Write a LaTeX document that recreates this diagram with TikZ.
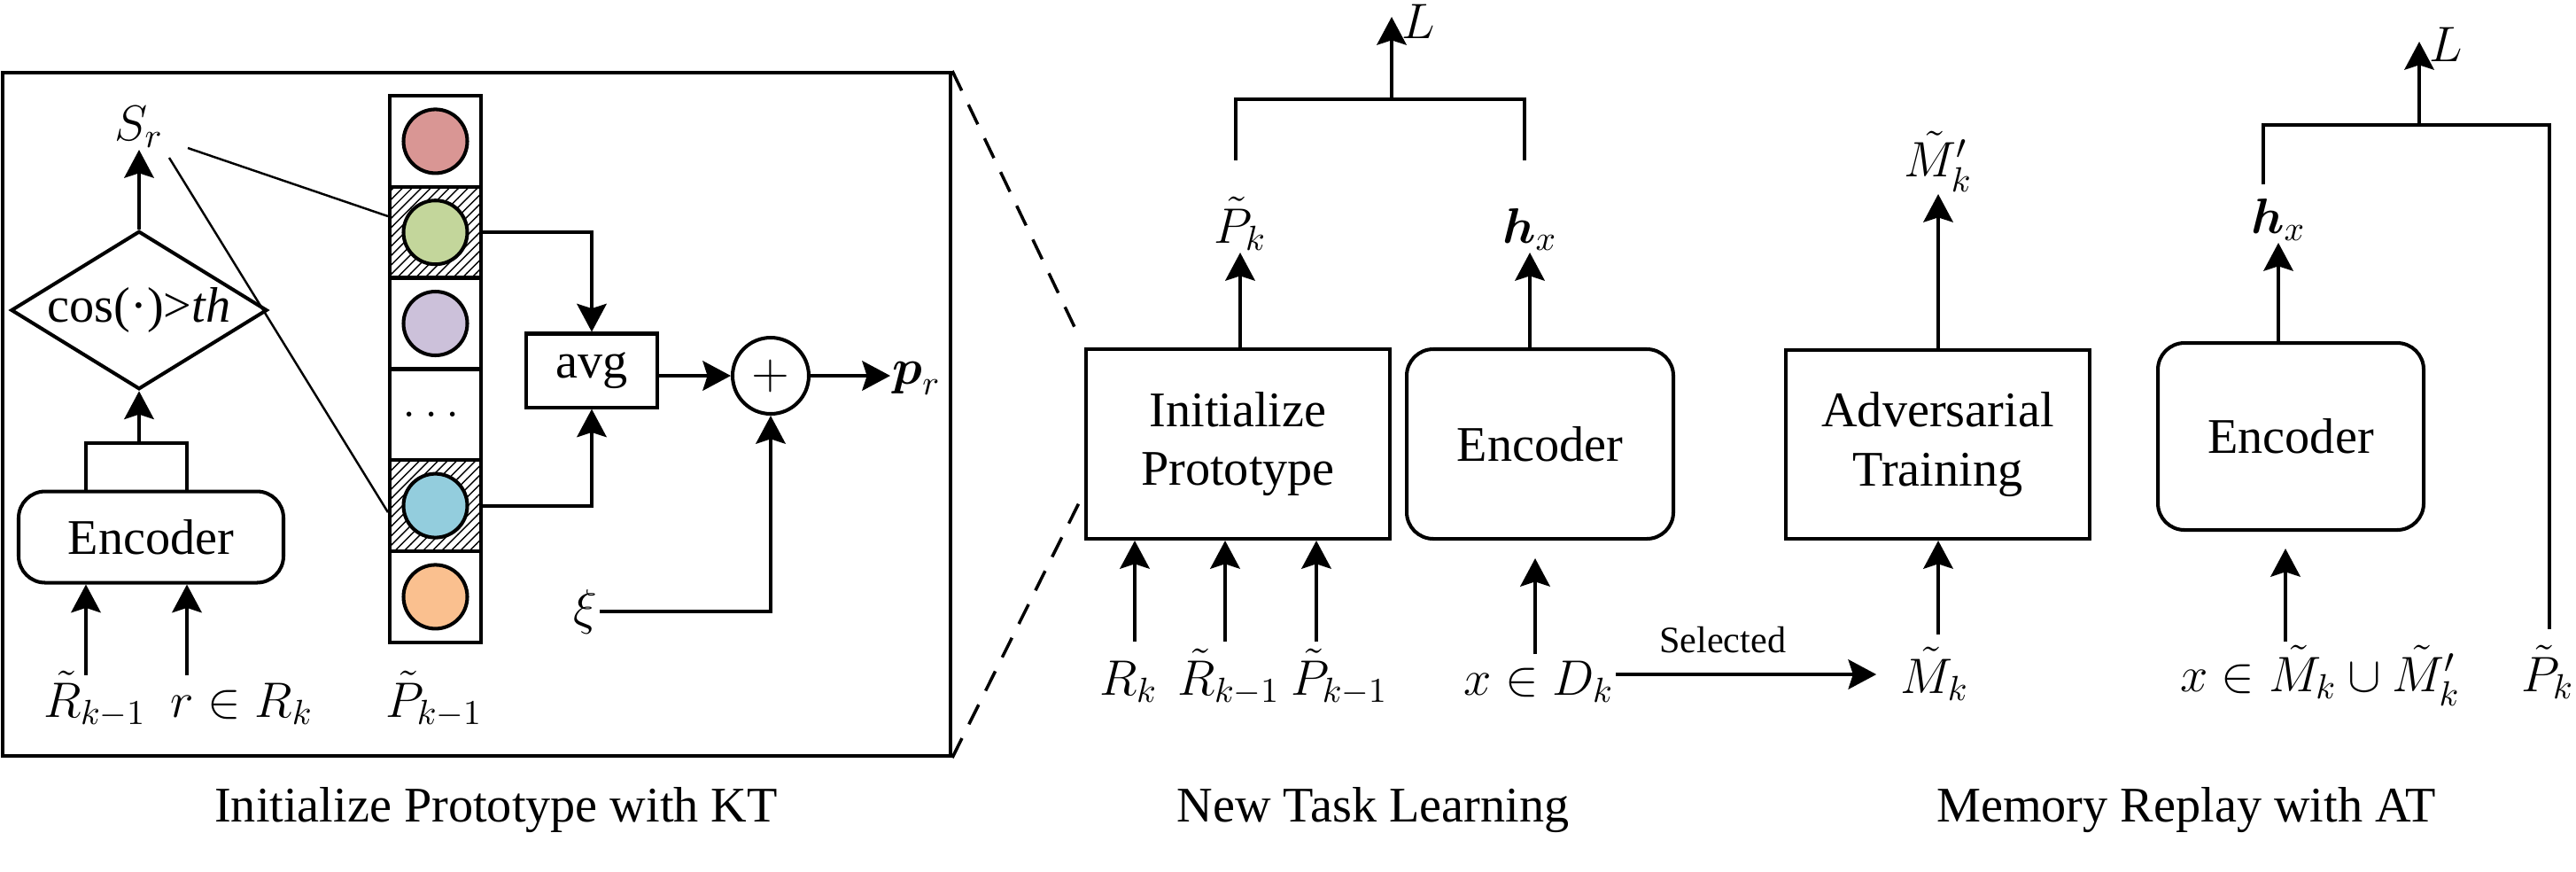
\documentclass[tikz,border=0pt]{standalone}
\usepackage{fix-cm}
\usepackage{amsmath}
\usepackage[no-math]{fontspec}
\setmainfont{Liberation Serif}
\usepackage{tikz}
\usetikzlibrary{arrows.meta,shapes.geometric,patterns,calc,positioning}
\definecolor{cred}{HTML}{D99694}
\definecolor{cgreen}{HTML}{C3D69B}
\definecolor{cpurple}{HTML}{CCC1DA}
\definecolor{cblue}{HTML}{93CDDD}
\definecolor{corange}{HTML}{FAC08F}
\tikzset{
  wire/.style={line width=1.15pt},
  thinwire/.style={line width=0.7pt},
  dashwire/.style={line width=1pt, dash pattern=on 7pt off 5pt},
  arr/.style={line width=1.15pt, -{Stealth[length=9pt,width=9.5pt,inset=1.5pt]}},
  box/.style={draw, line width=1.15pt, inner sep=0pt},
  rbox/.style={box, rounded corners=0.3cm},
  lab/.style={inner sep=0.5pt},
  cell/.style={draw, line width=1.15pt, minimum size=1.03cm, inner sep=0pt},
  dot/.style={circle, draw, line width=1.15pt, minimum size=0.72cm, inner sep=0pt},
}

\begin{document}
\begin{tikzpicture}[font=\fontsize{16}{19}\selectfont]
    \useasboundingbox (0,0) rectangle (29.08,-9.83);

    % initialize prototype with KT
    \node[box, minimum width=10.70cm, minimum height=7.71cm] (kt) at (5.38,-4.675) {};
    \node[lab, anchor=south] (sr) at (1.57,-1.69) {$S_r$};
    \node[box, diamond, aspect=1.62, minimum width=2.66cm, minimum height=1.64cm] (cosd) at (1.57,-3.50) {cos(·)>\textit{th}};
    \node[rbox, minimum width=2.99cm, minimum height=1.03cm] (enc0) at (1.705,-6.06) {Encoder};
    \coordinate (bk0) at (1.57,-5.00);
    \draw[wire] ($(enc0.north)+(-0.735,0)$) |- (bk0) -| ($(enc0.north)+(0.405,0)$);
    \draw[arr] (bk0) -- (cosd.south);
    \draw[arr] (cosd.north) -- (sr.south);
    \coordinate (i01) at (0.97,-7.62);
    \coordinate (i02) at (2.11,-7.62);
    \draw[arr] (i01) -- (i01 |- enc0.south);
    \draw[arr] (i02) -- (i02 |- enc0.south);
    \node[lab, anchor=base] (rt0) at (1.07,-8.09) {$\tilde{R}_{k-1}$};
    \node[lab, anchor=base] (rin) at (2.73,-8.09) {$r\in R_k$};

    \node[cell] (c1) at (4.915,-1.594) {};
    \node[cell, pattern=north east lines] (c2) at (4.915,-2.622) {};
    \node[cell] (c3) at (4.915,-3.650) {};
    \node[cell] (c4) at (4.915,-4.678) {$\dots$};
    \node[cell, pattern=north east lines] (c5) at (4.915,-5.706) {};
    \node[cell] (c6) at (4.915,-6.734) {};
    \node[dot, fill=cred] (d1) at (c1) {};
    \node[dot, fill=cgreen] (d2) at (c2) {};
    \node[dot, fill=cpurple] (d3) at (c3) {};
    \node[dot, fill=cblue] (d5) at (c5) {};
    \node[dot, fill=corange] (d6) at (c6) {};
    \node[lab, anchor=base] (pkm0) at (4.90,-8.09) {$\tilde{P}_{k-1}$};
    \coordinate (s1) at (2.12,-1.67);
    \coordinate (s2) at (1.91,-1.78);
    \draw[thinwire] (s1) -- ($(c2.north west)!0.33!(c2.south west)$);
    \draw[thinwire] (s2) -- ($(c5.north west)!0.57!(c5.south west)$);

    \node[box, minimum width=1.48cm, minimum height=0.83cm] (avg) at (6.68,-4.18) {avg};
    \node[box, circle, minimum size=0.86cm] (plus) at (8.70,-4.24) {$+$};
    \draw[arr] (c2.east) -| (avg.north);
    \draw[arr] (c5.east) -| (avg.south);
    \draw[arr] (avg.east |- plus.west) -- (plus.west);
    \node[lab, anchor=west] (pr) at (10.05,-4.27) {$\boldsymbol{p}_r$};
    \draw[arr] (plus.east) -- (plus.east -| pr.west);
    \node[lab] (xi) at (6.61,-6.90) {$\xi$};
    \draw[arr] (xi.east) -| (plus.south);

    % new task learning
    \node[box, minimum width=3.43cm, minimum height=2.14cm, align=center] (initp) at (13.975,-5.01) {Initialize\\Prototype};
    \node[rbox, minimum width=3.01cm, minimum height=2.14cm] (enc1) at (17.385,-5.01) {Encoder};
    \draw[dashwire, shorten >=0.15cm] (kt.north east) -- (initp.north west);
    \draw[dashwire] (kt.south east) -- ($(initp.north west)!0.75!(initp.south west)$);
    \node[lab, anchor=south] (pk) at (14.00,-2.85) {$\tilde{P}_k$};
    \node[lab, anchor=south] (hx1) at (17.27,-2.85) {$\boldsymbol{h}_x$};
    \draw[arr] (pk.south |- initp.north) -- (pk.south);
    \draw[arr] (hx1.south |- enc1.north) -- (hx1.south);
    \coordinate (bl1) at (13.95,-1.81);
    \coordinate (br1) at (17.21,-1.81);
    \coordinate (lj1) at (15.71,-1.12);
    \coordinate (lt1) at (15.71,-0.19);
    \draw[wire] (bl1) |- (lj1) -| (br1);
    \draw[arr] (lj1) -- (lt1);
    \node[lab, anchor=west] (ll1) at (15.80,-0.24) {$L$};
    \coordinate (i11) at (12.81,-7.24);
    \coordinate (i12) at (13.83,-7.24);
    \coordinate (i13) at (14.86,-7.24);
    \draw[arr] (i11) -- (i11 |- initp.south);
    \draw[arr] (i12) -- (i12 |- initp.south);
    \draw[arr] (i13) -- (i13 |- initp.south);
    \node[lab, anchor=base] (rk) at (12.74,-7.84) {$R_k$};
    \node[lab, anchor=base] (rt1) at (13.87,-7.84) {$\tilde{R}_{k-1}$};
    \node[lab, anchor=base] (pkm1) at (15.12,-7.84) {$\tilde{P}_{k-1}$};
    \coordinate (i14) at (17.33,-7.38);
    \draw[arr, shorten >=0.2cm] (i14) -- (i14 |- enc1.south);
    \node[lab, anchor=base] (xd) at (17.37,-7.84) {$x\in D_k$};

    % memory replay with AT
    \node[lab, anchor=base] (mk) at (21.84,-7.82) {$\tilde{M}_k$};
    \draw[arr] ($(xd.base east)+(0,0.23)$) -- ($(mk.base west)+(-0.25,0.21)$) node[pos=0.41, above=0.1cm, font=\fontsize{12}{14}\selectfont] {Selected};
    \node[box, minimum width=3.43cm, minimum height=2.13cm, align=center] (adv) at (21.875,-5.015) {Adversarial\\Training};
    \coordinate (i21) at (21.88,-7.16);
    \draw[arr] (i21) -- (i21 |- adv.south);
    \node[lab, anchor=south] (mkp) at (21.88,-2.19) {$\tilde{M}'_k$};
    \draw[arr] (mkp.south |- adv.north) -- (mkp.south);

    \node[rbox, minimum width=3.00cm, minimum height=2.11cm] (enc2) at (25.86,-4.925) {Encoder};
    \node[lab, anchor=south] (hx2) at (25.72,-2.74) {$\boldsymbol{h}_x$};
    \draw[arr] (hx2.south |- enc2.north) -- (hx2.south);
    \coordinate (bl2) at (25.55,-2.08);
    \coordinate (lj2) at (27.31,-1.41);
    \coordinate (br2) at (28.78,-7.10);
    \coordinate (lt2) at (27.31,-0.47);
    \draw[wire] (bl2) |- (lj2) -| (br2);
    \draw[arr] (lj2) -- (lt2);
    \node[lab, anchor=west] (ll2) at (27.40,-0.50) {$L$};
    \coordinate (i31) at (25.80,-7.24);
    \draw[arr, shorten >=0.19cm] (i31) -- (i31 |- enc2.south);
    \node[lab, anchor=base] (xm) at (26.19,-7.80) {$x\in\tilde{M}_k\cup\tilde{M}'_k$};
    \node[lab, anchor=base] (pk2) at (28.76,-7.80) {$\tilde{P}_k$};

    % captions
    \node (cap1) at (5.60,-9.14) {Initialize Prototype with KT};
    \node (cap2) at (15.50,-9.14) {New Task Learning};
    \node (cap3) at (24.68,-9.14) {Memory Replay with AT};
\end{tikzpicture}
\end{document}
